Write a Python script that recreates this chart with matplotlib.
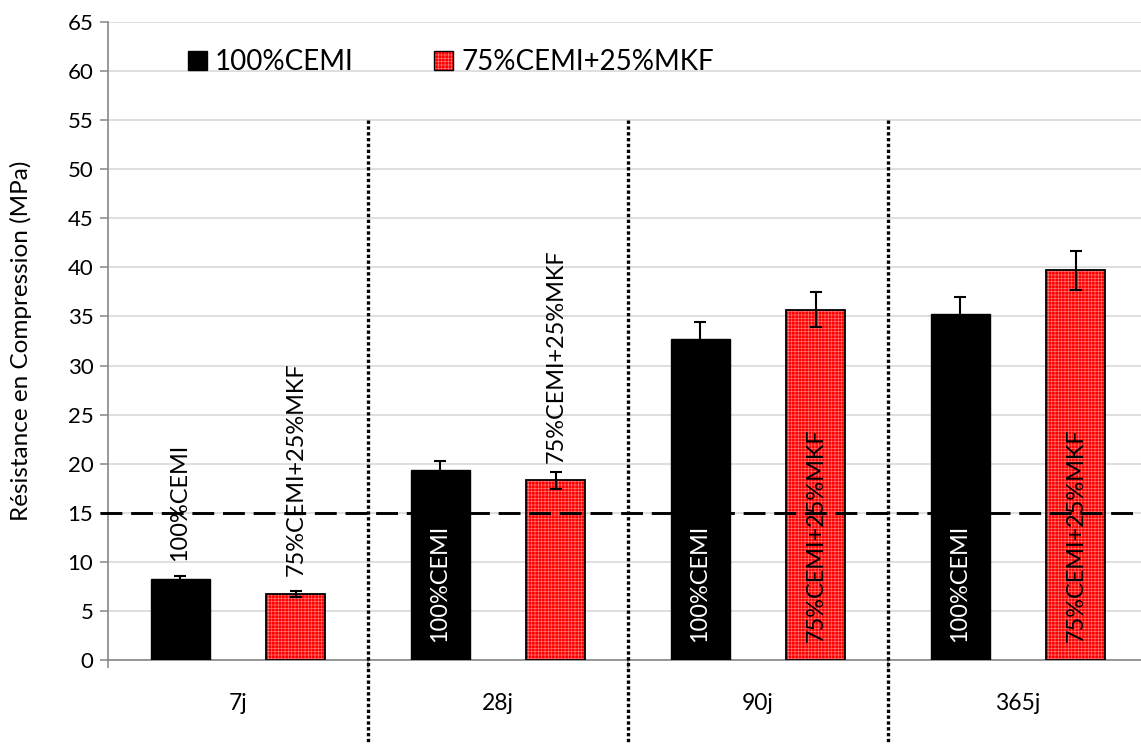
import numpy as np
import matplotlib
matplotlib.use("Agg")
import matplotlib.pyplot as plt
from matplotlib.patches import Patch

# ---- data ----
ages = ['7j', '28j', '90j', '365j']
series_names = ['100%CEMI', '75%CEMI+25%MKF']
cemi = [8.3, 19.4, 32.75, 35.3]
cemi_err = [0.3, 0.9, 1.65, 1.7]
mkf = [6.7, 18.3, 35.7, 39.7]
mkf_err = [0.3, 0.9, 1.8, 2.0]
threshold = 15
yticks = list(range(0, 70, 5))
cemi_label_inside = [False, True, True, True]
mkf_label_inside = [False, False, True, True]

plt.rcParams['font.family'] = ['Lato', 'DejaVu Sans']
plt.rcParams['hatch.linewidth'] = 0.45

W, H = 1141, 744
fig = plt.figure(figsize=(W / 100, H / 100), dpi=100)
ax = fig.add_axes([108 / W, 84 / H, 1040 / W, 638 / H])

x = np.arange(len(ages))
bw = 0.227
off = 0.223
red = '#ff0000'
hatch_col = '#ff7a7a'

ax.bar(x - off, cemi, bw, color='black', edgecolor='black', lw=1.0, zorder=3)
ax.bar(x + off, mkf, bw, color=red, edgecolor=hatch_col, hatch='+++++', lw=0, zorder=3)
ax.bar(x + off, mkf, bw, facecolor='none', edgecolor='black', lw=1.3, zorder=3.1)

ax.errorbar(x - off, cemi, yerr=cemi_err, fmt='none', ecolor='black', elinewidth=1.5,
            capsize=4.3, capthick=1.5, zorder=4)
ax.errorbar(x + off, mkf, yerr=mkf_err, fmt='none', ecolor='black', elinewidth=1.5,
            capsize=4.3, capthick=1.5, zorder=4)

# bar labels
lab_fs = 16.9
for xi, v, inside in zip(x - off, cemi, cemi_label_inside):
    ax.annotate(series_names[0], (xi, 0 if inside else v), xytext=(0, 12.8),
                textcoords='offset points', rotation=90, ha='center', va='bottom',
                fontsize=lab_fs, color='white' if inside else 'black', zorder=6)
for xi, v, inside in zip(x + off, mkf, mkf_label_inside):
    ax.annotate(series_names[1], (xi, 0 if inside else v), xytext=(0, 12.8),
                textcoords='offset points', rotation=90, ha='center', va='bottom',
                fontsize=lab_fs, color='black', zorder=6)

# threshold line
ax.plot([-0.5 - 8 / 260, 3.5], [threshold, threshold], color='black', lw=2.1,
        dashes=(7.5, 3), clip_on=False, zorder=5)

# dotted separators
for b in [0.5, 1.5, 2.5]:
    ax.plot([b, b], [55, -9], color='black', lw=2.4, linestyle=(0, (1, 0.75)),
            clip_on=False, zorder=5)

ax.set_xlim(-0.5, 3.5)
ax.set_ylim(0, 65)
ax.set_yticks(yticks)
ax.set_xticks(x)
ax.set_xticklabels(ages)
ax.set_xticks([-0.5, 0.5, 1.5, 2.5, 3.5], minor=True)
ax.yaxis.grid(True, color='#d9d9d9', lw=1.2)
ax.set_axisbelow(True)
for s in ['top', 'right']:
    ax.spines[s].set_visible(False)
for s in ['left', 'bottom']:
    ax.spines[s].set_color('#868686')
    ax.spines[s].set_linewidth(1.2)
ax.tick_params(axis='y', length=5.5, width=1.1, color='#868686', labelsize=16, pad=5)
ax.tick_params(axis='x', which='major', length=0, labelsize=16.5, pad=24)
ax.tick_params(axis='x', which='minor', length=5.5, width=1.1, color='#868686')

fig.text(21 / W, 1 - 341 / H, 'Résistance en Compression (MPa)', rotation=90,
         ha='center', va='center', fontsize=17.5)

h1 = Patch(facecolor='black', edgecolor='black', lw=1)
h2a = Patch(facecolor=red, edgecolor=hatch_col, hatch='+++++', lw=0)
h2b = Patch(facecolor='none', edgecolor='black', lw=1)
fig.legend([h1, (h2a, h2b)], series_names, loc='upper left',
           bbox_to_anchor=(174 / W, 1 - 35 / H), frameon=False, borderpad=0,
           handlelength=0.68, handleheight=0.68, handletextpad=0.29,
           columnspacing=2.9, ncol=2, fontsize=20)

fig.savefig('out.png', dpi=100)
